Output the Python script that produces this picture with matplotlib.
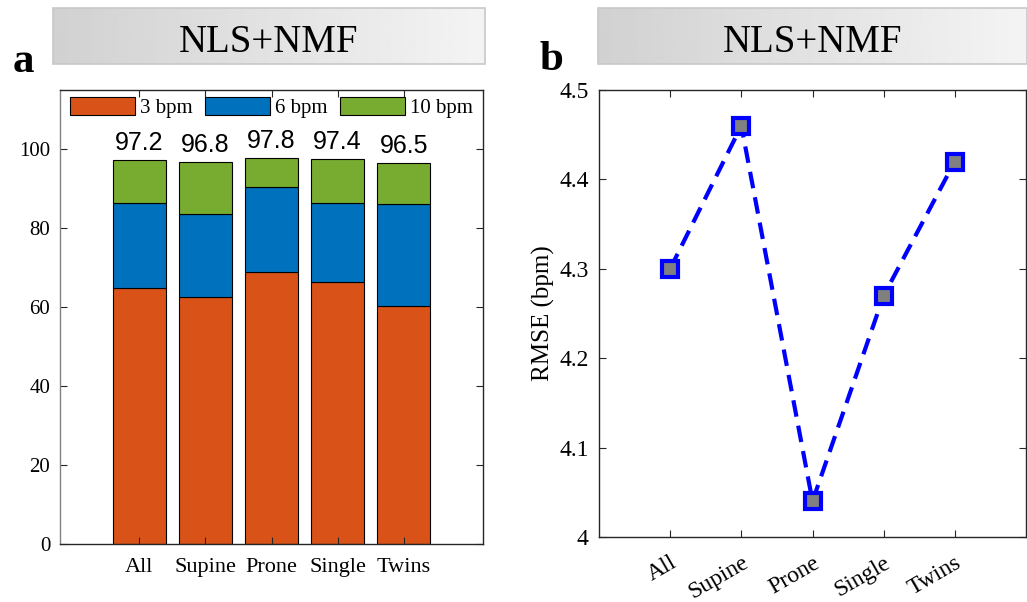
import numpy as np
import matplotlib
matplotlib.use("Agg")
import matplotlib.pyplot as plt
from matplotlib.patches import Rectangle
from matplotlib.transforms import ScaledTranslation

plt.rcParams['font.family'] = ['Liberation Serif', 'DejaVu Serif']
SERIF = ['Liberation Serif', 'DejaVu Serif']

# ---- data ----
categories = ["All", "Supine", "Prone", "Single", "Twins"]
acc_3bpm = [64.8, 62.5, 68.9, 66.3, 60.2]
acc_6bpm = [21.5, 21.2, 21.5, 20.0, 26.0]
acc_10bpm = [10.9, 13.1, 7.4, 11.1, 10.3]
totals = [97.2, 96.8, 97.8, 97.4, 96.5]
series_names = ["3 bpm", "6 bpm", "10 bpm"]
rmse = [4.30, 4.46, 4.04, 4.27, 4.42]
title_text = "NLS+NMF"

c_red, c_blue, c_green = "#D95319", "#0072BD", "#77AC30"
spine_c = "#262626"

W, H = 1027, 602
fig = plt.figure(figsize=(W / 100, H / 100), dpi=100)


def px_box(x0, y0, x1, y1):
    return [x0 / W, (H - y1) / H, (x1 - x0) / W, (y1 - y0) / H]


def title_box(rect):
    tax = fig.add_axes(rect)
    grad = np.linspace(0.82, 0.955, 256)[None, :]
    tax.imshow(grad, cmap="gray", vmin=0, vmax=1, aspect="auto",
               extent=[0, 1, 0, 1])
    tax.add_patch(Rectangle((0, 0), 1, 1, fill=False, ec="#c8c8c8", lw=1.2,
                            transform=tax.transAxes, clip_on=False))
    tax.set_xlim(0, 1)
    tax.set_ylim(0, 1)
    tax.axis("off")
    tax.text(0.5, 0.21, title_text, ha="center", va="baseline", fontsize=28,
             family=SERIF, transform=tax.transAxes)


title_box(px_box(53, 8, 485, 64))
title_box(px_box(598, 8, 1027, 64))

fig.text(13 / W, (H - 72) / H, "a", fontsize=31, fontweight="bold",
         family=SERIF, va="baseline", ha="left")
fig.text(540 / W, (H - 70) / H, "b", fontsize=31, fontweight="bold",
         family=SERIF, va="baseline", ha="left")

# ---- left: stacked bars ----
ax1 = fig.add_axes(px_box(60, 90, 483, 544))
x = np.arange(1, len(categories) + 1)
ax1.bar(x, acc_3bpm, width=0.8, color=c_red, edgecolor="black", lw=0.8,
        label=series_names[0])
bottom2 = np.array(acc_3bpm)
ax1.bar(x, acc_6bpm, width=0.8, bottom=bottom2, color=c_blue,
        edgecolor="black", lw=0.8, label=series_names[1])
bottom3 = bottom2 + np.array(acc_6bpm)
ax1.bar(x, acc_10bpm, width=0.8, bottom=bottom3, color=c_green,
        edgecolor="black", lw=0.8, label=series_names[2])
for xi, t in zip(x, totals):
    ax1.text(xi, t + 2.6, f"{t:.1f}", ha="center", va="baseline",
             fontsize=18, family="Liberation Sans")
ax1.set_xlim(-0.2, 6.2)
ax1.set_ylim(0, 115)
ax1.set_xticks(x)
ax1.set_xticklabels(categories, fontsize=16, family=SERIF)
yt = np.arange(0, 101, 20)
ax1.set_yticks(yt)
ax1.set_yticklabels([str(v) for v in yt], family=SERIF)
ax1.tick_params(axis="y", labelsize=15, direction="in", length=5, pad=7,
                right=True, color=spine_c)
ax1.tick_params(axis="x", direction="in", length=5, pad=10, top=True,
                color=spine_c)
for s in ax1.spines.values():
    s.set_color(spine_c)
    s.set_linewidth(1.0)
ax1.spines["left"].set_color("#808080")
ax1.legend(loc="upper center", bbox_to_anchor=(0.5, 0.984), ncol=3,
           frameon=False, prop={"family": SERIF, "size": 15},
           handlelength=3.1, handleheight=0.9, handletextpad=0.25,
           columnspacing=0.6, borderpad=0, borderaxespad=0)

# ---- right: RMSE line ----
ax2 = fig.add_axes(px_box(599, 90, 1026, 537))
ax2.plot(x, rmse, color="blue", ls=(0, (4.0, 2.2)), lw=3.0, marker="s",
         ms=11, mfc="#808080", mec="blue", mew=3.0)
ax2.set_xlim(0, 6)
ax2.set_ylim(4, 4.5)
ax2.set_xticks(x)
ax2.set_xticklabels(categories, fontsize=17, rotation=30, ha="right",
                    va="top", rotation_mode="anchor", family=SERIF)
shift = ScaledTranslation(4 / 100, 0, fig.dpi_scale_trans)
for lbl in ax2.get_xticklabels():
    lbl.set_transform(lbl.get_transform() + shift)
yt2 = [4, 4.1, 4.2, 4.3, 4.4, 4.5]
ax2.set_yticks(yt2)
ax2.set_yticklabels(["4", "4.1", "4.2", "4.3", "4.4", "4.5"], family=SERIF)
ax2.tick_params(axis="y", labelsize=17, direction="in", length=5, pad=7.5,
                right=True, color=spine_c)
ax2.tick_params(axis="x", direction="in", length=5, pad=11, top=True,
                color=spine_c)
for s in ax2.spines.values():
    s.set_color(spine_c)
    s.set_linewidth(1.0)
ax2.set_ylabel("RMSE (bpm)", fontsize=18, labelpad=3, family=SERIF)

fig.savefig("out.png", dpi=100)
